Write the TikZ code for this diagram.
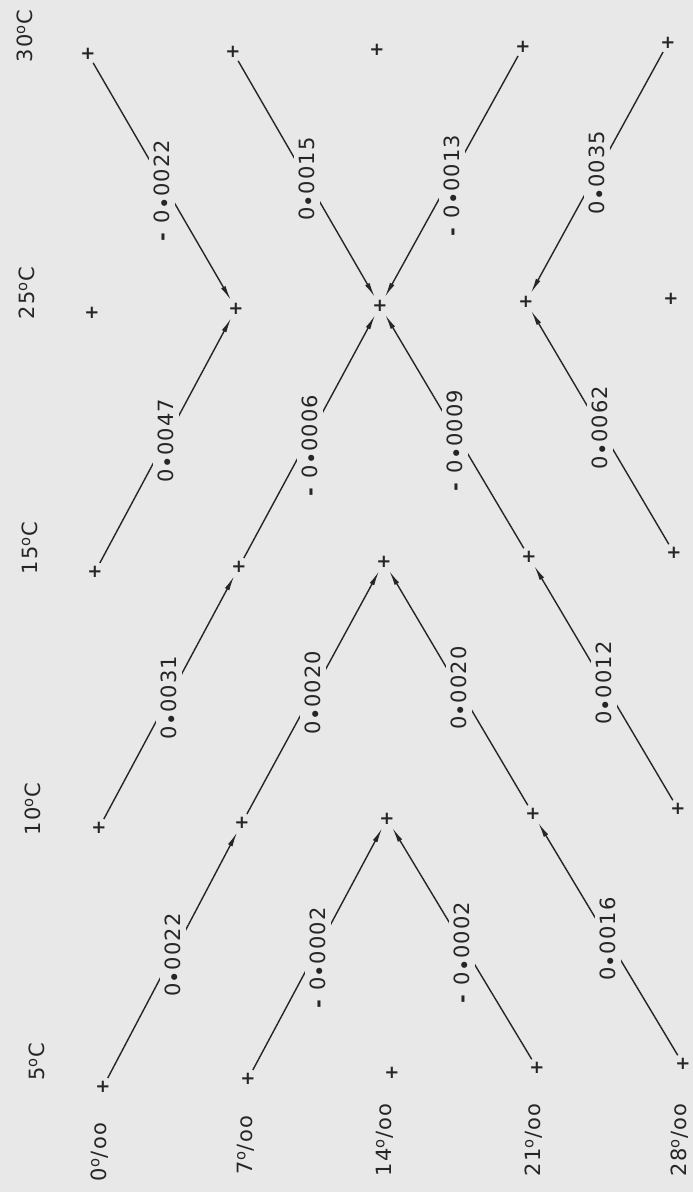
\documentclass[tikz,border=0pt]{standalone}
\usepackage{fontspec}
\newfontfamily\plotfont[LetterSpace=6]{DejaVu Sans}
\usetikzlibrary{arrows.meta}
\definecolor{paper}{RGB}{232,232,232}
\definecolor{ink}{RGB}{38,38,38}
\newcommand{\dpt}{\hbox to 0.62em{\hss\raisebox{-0.12em}{•}\hss}}
\tikzset{
  gridpt/.style={
    circle,
    minimum size=20pt,
    inner sep=0pt,
    text=ink,
    font=\plotfont\bfseries\fontsize{18}{18}\selectfont
  },
  rate/.style={
    rotate=90,
    fill=paper,
    inner xsep=1pt,
    inner ysep=5.5pt,
    text height=15pt,
    text depth=0pt,
    text=ink,
    font=\plotfont\fontsize{21}{21}\selectfont
  },
  axislbl/.style={
    rotate=90,
    text=ink,
    font=\plotfont\fontsize{21}{21}\selectfont
  },
  every edge/.style={
    -{Latex[length=15pt,width=5pt]},
    draw=ink,
    line width=1.4pt
  }
}

\begin{document}
\begin{tikzpicture}[x=1pt, y=-1pt]
  \fill[paper] (0,0) rectangle (693,1192);
  \useasboundingbox (0,0) rectangle (693,1192);

  % grid points: salinity across, temperature down
  \node[gridpt] (s0t30) at (88,54) {+};
  \node[gridpt] (s7t30) at (233,52) {+};
  \node[gridpt] (s14t30) at (377,50) {+};
  \node[gridpt] (s21t30) at (523,47) {+};
  \node[gridpt] (s28t30) at (668,43) {+};

  \node[gridpt] (s0t25) at (92,313) {+};
  \node[gridpt] (s7t25) at (236,309) {+};
  \node[gridpt] (s14t25) at (380,306) {+};
  \node[gridpt] (s21t25) at (526,302) {+};
  \node[gridpt] (s28t25) at (671,299) {+};

  \node[gridpt] (s0t15) at (95,572) {+};
  \node[gridpt] (s7t15) at (239,567) {+};
  \node[gridpt] (s14t15) at (384,562) {+};
  \node[gridpt] (s21t15) at (529,557) {+};
  \node[gridpt] (s28t15) at (674,553) {+};

  \node[gridpt] (s0t10) at (99,828) {+};
  \node[gridpt] (s7t10) at (242,823) {+};
  \node[gridpt] (s14t10) at (387,819) {+};
  \node[gridpt] (s21t10) at (533,814) {+};
  \node[gridpt] (s28t10) at (678,809) {+};

  \node[gridpt] (s0t5) at (103,1087) {+};
  \node[gridpt] (s7t5) at (248,1079) {+};
  \node[gridpt] (s14t5) at (392,1073) {+};
  \node[gridpt] (s21t5) at (537,1068) {+};
  \node[gridpt] (s28t5) at (683,1064) {+};

  % temperature labels
  \node[axislbl] (t30) at (25,36) {30\textsuperscript{o}C};
  \node[axislbl] (t25) at (27,293) {25\textsuperscript{o}C};
  \node[axislbl] (t15) at (30,548) {15\textsuperscript{o}C};
  \node[axislbl] (t10) at (33,809) {10\textsuperscript{o}C};
  \node[axislbl] (t5) at (37,1062) {5\textsuperscript{o}C};

  % salinity labels
  \node[axislbl] (sal0) at (100,1152) {0\textsuperscript{o}/oo};
  \node[axislbl] (sal7) at (246,1145) {7\textsuperscript{o}/oo};
  \node[axislbl] (sal14) at (385,1140) {14\textsuperscript{o}/oo};
  \node[axislbl] (sal21) at (534,1140) {21\textsuperscript{o}/oo};
  \node[axislbl] (sal28) at (680,1140) {28\textsuperscript{o}/oo};

  % changes between neighbouring points
  \path (s0t30) edge node[rate]{\llap{\textbf{-}\ }0\dpt0022} (s7t25)
        (s7t30) edge node[rate]{0\dpt0015} (s14t25)
        (s21t30) edge node[rate]{\llap{\textbf{-}\ }0\dpt0013} (s14t25)
        (s28t30) edge node[rate]{0\dpt0035} (s21t25)
        (s0t15) edge node[rate]{0\dpt0047} (s7t25)
        (s7t15) edge node[rate]{\llap{\textbf{-}\ }0\dpt0006} (s14t25)
        (s21t15) edge node[rate]{\llap{\textbf{-}\ }0\dpt0009} (s14t25)
        (s28t15) edge node[rate]{0\dpt0062} (s21t25)
        (s0t10) edge node[rate]{0\dpt0031} (s7t15)
        (s7t10) edge node[rate]{0\dpt0020} (s14t15)
        (s21t10) edge node[rate]{0\dpt0020} (s14t15)
        (s28t10) edge node[rate]{0\dpt0012} (s21t15)
        (s0t5) edge node[rate]{0\dpt0022} (s7t10)
        (s7t5) edge node[rate]{\llap{\textbf{-}\ }0\dpt0002} (s14t10)
        (s21t5) edge node[rate]{\llap{\textbf{-}\ }0\dpt0002} (s14t10)
        (s28t5) edge node[rate]{0\dpt0016} (s21t10);
\end{tikzpicture}
\end{document}
